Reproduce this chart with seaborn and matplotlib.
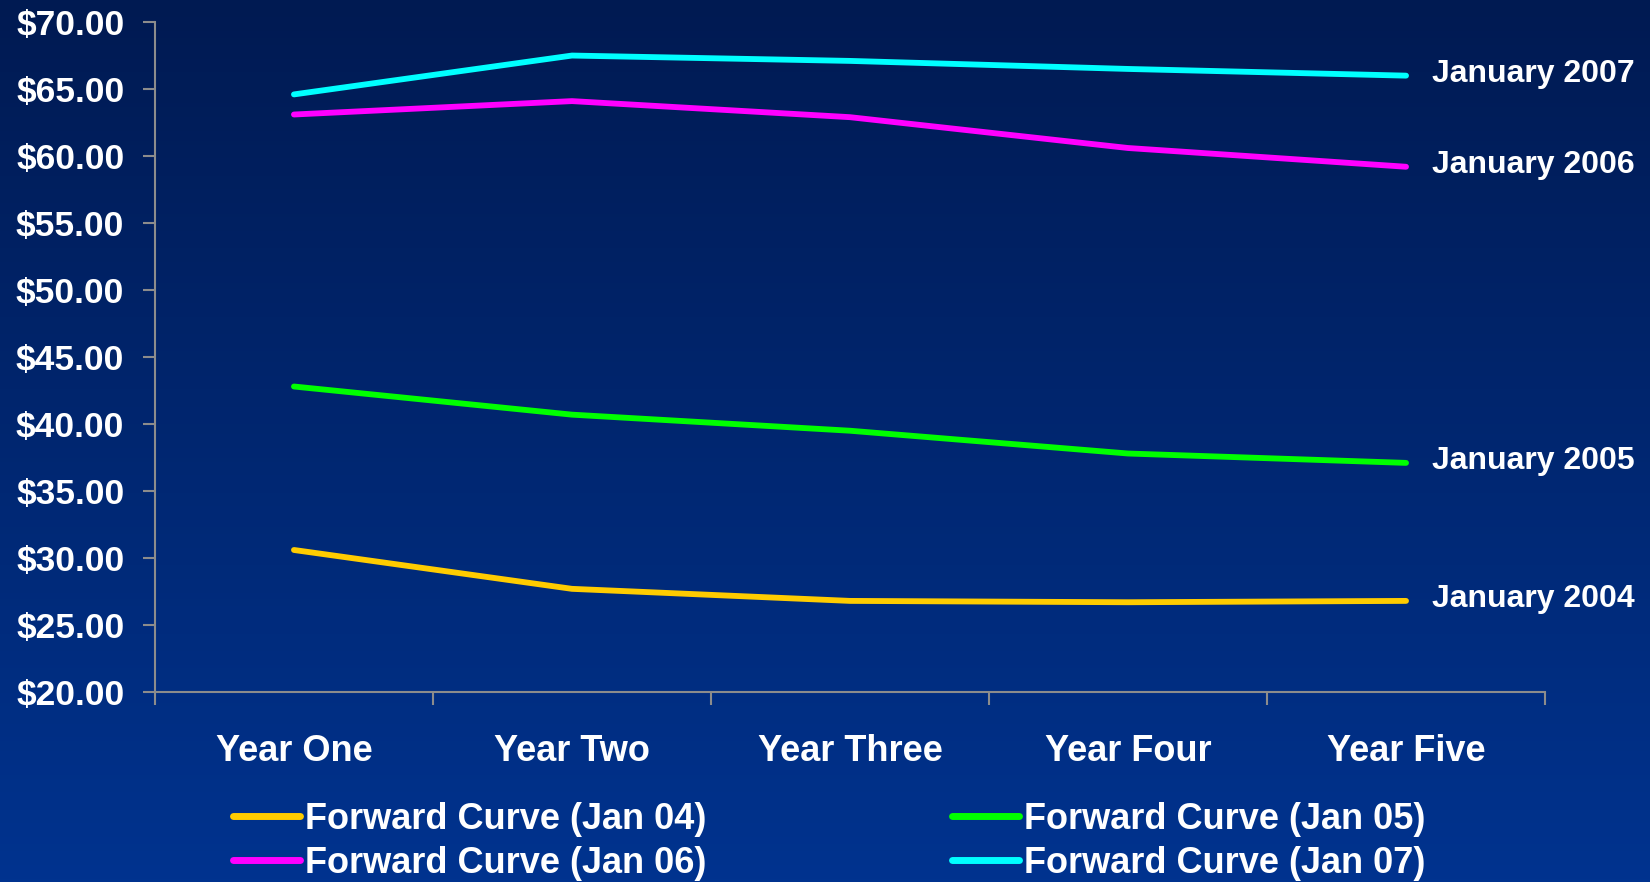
import numpy as np
import pandas as pd
import seaborn as sns
import matplotlib.pyplot as plt
from matplotlib.colors import LinearSegmentedColormap

years = ['Year One', 'Year Two', 'Year Three', 'Year Four', 'Year Five']
jan04 = [30.6, 27.7, 26.8, 26.7, 26.8]
jan05 = [42.8, 40.7, 39.5, 37.8, 37.1]
jan06 = [63.1, 64.1, 62.9, 60.6, 59.2]
jan07 = [64.6, 67.5, 67.1, 66.5, 66.0]
series_names = ['Forward Curve (Jan 04)', 'Forward Curve (Jan 05)',
                'Forward Curve (Jan 06)', 'Forward Curve (Jan 07)']
end_labels = ['January 2004', 'January 2005', 'January 2006', 'January 2007']
colors = ['#FFCC00', '#00FF00', '#FF00FF', '#00FFFF']

rows = []
for name, vals in zip(series_names, [jan04, jan05, jan06, jan07]):
    for i, v in enumerate(vals):
        rows.append({'year': i, 'price': v, 'curve': name})
df = pd.DataFrame(rows)

sns.set_style('white')
plt.rcParams['font.family'] = ['Liberation Sans', 'DejaVu Sans']
plt.rcParams['font.weight'] = 'bold'

fig = plt.figure(figsize=(16.5, 8.82), dpi=100)

# gradient background
bg = fig.add_axes([0, 0, 1, 1], zorder=-10)
cmap = LinearSegmentedColormap.from_list('bg', ['#001a52', '#00338f'])
bg.imshow(np.linspace(0, 1, 256).reshape(-1, 1), aspect='auto', cmap=cmap,
          extent=[0, 1, 0, 1], origin='upper')
bg.axis('off')

ax = fig.add_axes([0.0939, 0.2154, 0.8425, 0.7596])
ax.set_facecolor('none')

sns.lineplot(data=df, x='year', y='price', hue='curve', palette=colors,
             linewidth=4.2, ax=ax, legend=False)
for ln in ax.get_lines():
    ln.set_solid_capstyle('round')

ax.set_xlim(-0.5, 4.5)
ax.set_ylim(20, 70)
ax.set_yticks(np.arange(20, 71, 5))
ax.set_yticklabels(['$%.2f' % v for v in np.arange(20, 71, 5)])
ax.set_xticks(range(5))
ax.set_xticklabels(years)
ax.set_xticks(np.arange(-0.5, 4.6, 1), minor=True)
ax.tick_params(axis='x', which='major', length=0, pad=30, labelsize=26,
               labelcolor='white')
ax.tick_params(axis='x', which='minor', length=9, width=1.5, color='#8c8c8c',
               direction='out', bottom=True)
ax.tick_params(axis='y', length=9, width=1.5, color='#8c8c8c', pad=13,
               labelsize=25.5, labelcolor='white', left=True)
for lbl in ax.get_xticklabels() + ax.get_yticklabels():
    lbl.set_fontweight('bold')
ax.set_xlabel('')
ax.set_ylabel('')
sns.despine(ax=ax)
for s in ['left', 'bottom']:
    ax.spines[s].set_color('#8c8c8c')
    ax.spines[s].set_linewidth(1.5)

for vals, lab in zip([jan04, jan05, jan06, jan07], end_labels):
    ax.annotate(lab, xy=(4, vals[-1]), xytext=(19, 1.5), textcoords='offset points',
                color='white', fontsize=23, fontweight='bold', va='center',
                ha='left', annotation_clip=False)

handles = ax.get_lines()[:4]
order = [0, 2, 1, 3]
leg = fig.legend([handles[i] for i in order], [series_names[i] for i in order],
                 loc='center', bbox_to_anchor=(0.5027, 0.046), ncol=2,
                 frameon=False, fontsize=26, handlelength=1.85,
                 handletextpad=0.15, columnspacing=6.8, labelspacing=0.245,
                 borderpad=0)
for t in leg.get_texts():
    t.set_color('white')
    t.set_fontweight('bold')
for h in leg.legend_handles:
    h.set_linewidth(5)
    h.set_solid_capstyle('round')

fig.savefig('out.png', dpi=100)
